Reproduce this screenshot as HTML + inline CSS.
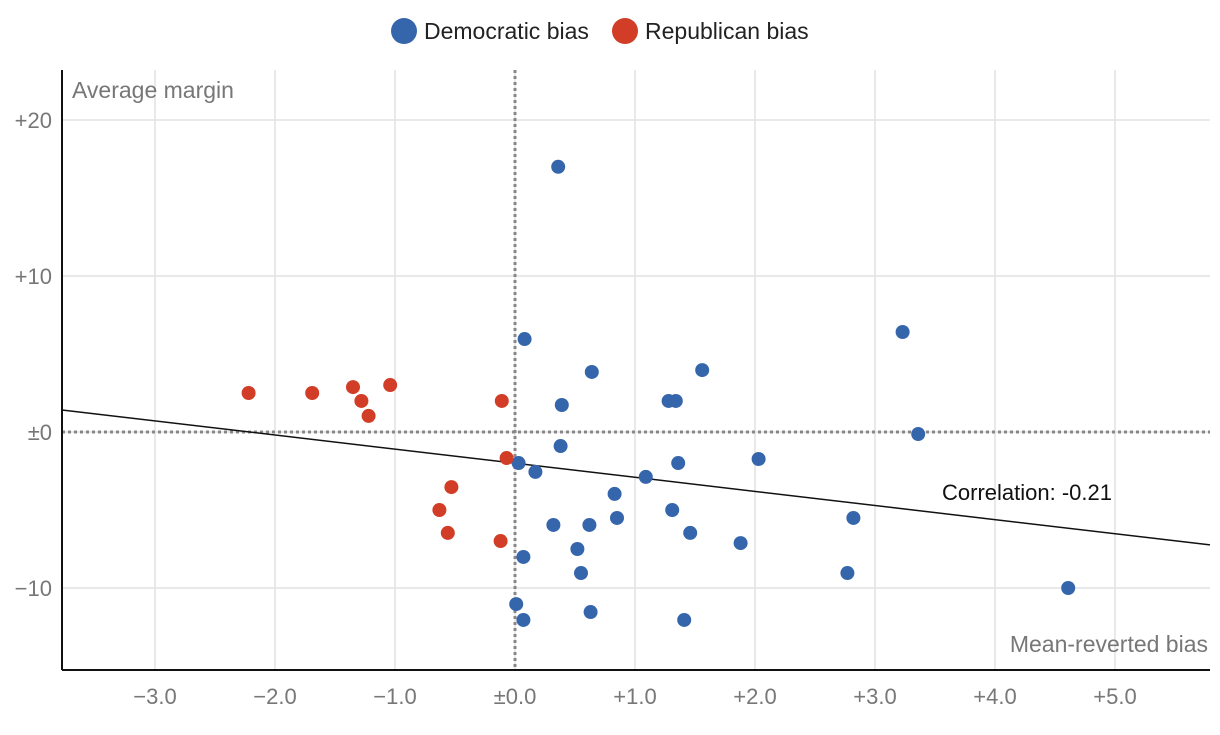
<!DOCTYPE html>
<html><head><meta charset="utf-8">
<style>
body{margin:0;background:#fff;}
svg text{font-family:"Liberation Sans Narrow","Liberation Sans",sans-serif;}
</style></head>
<body>
<svg id="chart" width="1220" height="730" xmlns="http://www.w3.org/2000/svg">
<g>
<circle cx="404" cy="31" r="13" fill="#3566ab"/>
<text x="424" y="39" font-size="23" fill="#222">Democratic bias</text>
<circle cx="625" cy="31" r="13" fill="#d13d26"/>
<text x="645" y="39" font-size="23" fill="#222">Republican bias</text>
</g>
<g id="grid"></g>
<g id="marks"></g>
<text x="72" y="98" font-size="23" fill="#777">Average margin</text>
<text x="1208" y="652" font-size="23" fill="#777" text-anchor="end">Mean-reverted bias</text>
<text x="942" y="500" font-size="22" fill="#111">Correlation: -0.21</text>
</svg>
<script>
const xTicks=[-3,-2,-1,0,1,2,3,4,5];
const xTickLabels=["−3.0","−2.0","−1.0","±0.0","+1.0","+2.0","+3.0","+4.0","+5.0"];
const yTicks=[20,10,0,-10];
const yTickLabels=["+20","+10","±0","−10"];
const demX=[0.36,0.08,0.64,1.56,3.23,0.39,1.28,1.34,3.36,0.38,0.03,0.17,1.09,1.36,2.03,0.83,0.32,0.62,0.85,1.31,2.82,1.46,1.88,0.52,0.07,0.55,2.77,4.61,0.01,0.63,0.07,1.41];
const demY=[17.0,5.96,3.85,3.97,6.41,1.73,1.99,1.99,-0.13,-0.9,-1.99,-2.56,-2.88,-1.99,-1.73,-3.97,-5.96,-5.96,-5.51,-5.0,-5.51,-6.47,-7.12,-7.5,-8.01,-9.04,-9.04,-10.0,-11.03,-11.54,-12.05,-12.05];
const repX=[-2.22,-1.69,-1.35,-1.04,-1.28,-1.22,-0.11,-0.07,-0.53,-0.63,-0.56,-0.12];
const repY=[2.5,2.5,2.88,3.01,1.99,1.03,1.99,-1.67,-3.53,-5.0,-6.47,-6.99];
const trend=[-2.0,-0.904];
const L=62,R=1210,T=70,B=670;
const xs=v=>515+v*120;
const ys=v=>432-v*15.6;
const xMin=(L-515)/120,xMax=(R-515)/120;
const NS="http://www.w3.org/2000/svg";
function mk(tag,attrs,parent){const e=document.createElementNS(NS,tag);for(const k in attrs)e.setAttribute(k,attrs[k]);parent.appendChild(e);return e;}
const grid=document.getElementById('grid'),marks=document.getElementById('marks');
xTicks.forEach((t,i)=>{
 const g=mk('line',{x1:xs(t),x2:xs(t),y1:T,y2:B,stroke:'#e2e2e2','stroke-width':1.5},grid);
 
 
 const tx=mk('text',{x:xs(t),y:704,'font-size':22,fill:'#777','text-anchor':'middle'},grid);
 tx.textContent=xTickLabels[i];
 
 
});
yTicks.forEach((t,i)=>{
 const g=mk('line',{x1:L,x2:R,y1:ys(t),y2:ys(t),stroke:'#e2e2e2','stroke-width':1.5},grid);
 
 
 const tx=mk('text',{x:52,y:ys(t)+8,'font-size':22,fill:'#777','text-anchor':'end'},grid);
 tx.textContent=yTickLabels[i];
 
 
});
const zx=mk('line',{x1:xs(0),x2:xs(0),y1:T,y2:B,stroke:'#888','stroke-width':3,'stroke-dasharray':'3,3'},grid);


const zy=mk('line',{x1:L,x2:R,y1:ys(0),y2:ys(0),stroke:'#888','stroke-width':3,'stroke-dasharray':'3,3'},grid);


const ax1=mk('line',{x1:L,x2:L,y1:T,y2:B,stroke:'#111','stroke-width':2},grid);


const ax2=mk('line',{x1:L,x2:R,y1:B,y2:B,stroke:'#111','stroke-width':2},grid);


const tl=mk('line',{x1:xs(xMin),y1:ys(trend[0]+trend[1]*xMin),x2:xs(xMax),y2:ys(trend[0]+trend[1]*xMax),stroke:'#111','stroke-width':1.5},marks);


demX.forEach((v,i)=>{
 const c=mk('circle',{cx:xs(v),cy:ys(demY[i]),r:7,fill:'#3566ab'},marks);
 
 
});
repX.forEach((v,i)=>{
 const c=mk('circle',{cx:xs(v),cy:ys(repY[i]),r:7,fill:'#d13d26'},marks);
 
 
});
</script>
</body></html>
